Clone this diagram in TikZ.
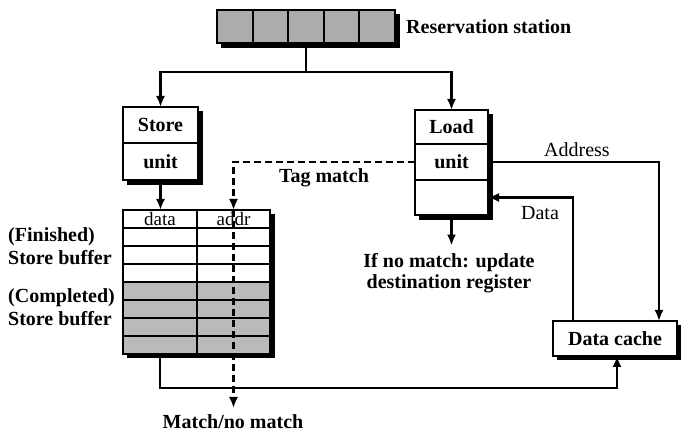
\documentclass[tikz,border=0pt]{standalone}
\usepackage{fontspec}
\setmainfont{Liberation Serif}
\usetikzlibrary{arrows.meta}
\definecolor{rsgray}{RGB}{172,172,172}
\definecolor{bufgray}{RGB}{186,186,186}
\begin{document}
\begin{tikzpicture}[x=1pt,y=-1pt,
  wire/.style={line width=2.1pt},
  arr/.style={wire,-{Latex[length=11pt,width=9pt]}},
  tagline/.style={arr,dash pattern=on 7pt off 4pt},
  cell/.style={draw,line width=2pt,fill=white,inner sep=0pt,outer sep=0pt,
    font=\fontsize{20}{22}\selectfont\bfseries},
  hdr/.style={cell,font=\fontsize{19}{21}\selectfont},
  lbl/.style={inner sep=0pt,font=\fontsize{20}{21}\selectfont\bfseries},
  plain/.style={inner sep=0pt,font=\fontsize{20}{21}\selectfont},
  shadowfill/.style={fill=black}
]
\useasboundingbox (0,0) rectangle (681,435);

% drop shadows behind the boxes
\fill[shadowfill] (221,14) rectangle (400,48);
\fill[shadowfill] (127,111) rectangle (203,185);
\fill[shadowfill] (419,114) rectangle (493,220);
\fill[shadowfill] (127,214) rectangle (275,358);
\fill[shadowfill] (557,325) rectangle (681,360);

% reservation station
\foreach \i in {1,...,5}
  \node[cell,fill=rsgray,minimum width=35.6pt,minimum height=33pt]
    (rs\i) at ({217+35.6*(\i-0.5)},26.5) {};
\node[lbl,anchor=west] (rslabel) at (406,27) {Reservation station};

% store unit
\node[cell,minimum width=75pt,minimum height=36pt] (storeA) at (160.5,125) {Store};
\node[cell,minimum width=75pt,minimum height=37pt] (storeB) at (160.5,161.5) {unit};

% load unit
\node[cell,minimum width=73pt,minimum height=34pt] (loadA) at (451.5,127) {Load};
\node[cell,minimum width=73pt,minimum height=36pt] (loadB) at (451.5,162) {unit};
\node[cell,minimum width=73pt,minimum height=35pt] (loadC) at (451.5,197.5) {};

% store buffer: data / addr columns
\node[hdr,minimum width=74pt,minimum height=18pt] (d1) at (160,219) {data};
\node[hdr,minimum width=73pt,minimum height=18pt] (a1) at (233.5,219) {addr};
\foreach \r in {2,3,4} {
  \node[cell,minimum width=74pt,minimum height=18pt] (d\r) at (160,{201+18*\r}) {};
  \node[cell,minimum width=73pt,minimum height=18pt] (a\r) at (233.5,{201+18*\r}) {};
}
\foreach \r in {5,...,8} {
  \node[cell,fill=bufgray,minimum width=74pt,minimum height=18pt] (d\r) at (160,{201+18*\r}) {};
  \node[cell,fill=bufgray,minimum width=73pt,minimum height=18pt] (a\r) at (233.5,{201+18*\r}) {};
}
\node[lbl,anchor=west] (fin1) at (8,237) {(Finished)};
\node[lbl,anchor=west] (fin2) at (8,258) {Store buffer};
\node[lbl,anchor=west] (com1) at (8,298) {(Completed)};
\node[lbl,anchor=west] (com2) at (8,319) {Store buffer};

% data cache
\node[cell,minimum width=124pt,minimum height=35pt] (cache) at (615,338.5) {Data cache};

% labels
\node[lbl] (taglbl) at (324,178) {Tag match};
\node[plain] (addrlbl) at (577,150) {Address};
\node[plain] (datalbl) at (540,213) {Data};
\node[lbl,align=center] (nomatch) at (449,273.5) {If no match: update\\destination register};
\node[lbl] (matchlbl) at (233,422) {Match/no match};

% routing points
\coordinate (fork) at (306,72);
\coordinate (addrdrop) at (659,162);
\coordinate (datarise) at (573,199);
\coordinate (bypass) at (617,388);
\coordinate (matchtip) at (233.5,408);

% issue from the reservation station
\draw[wire] (rs3.south) -- (fork);
\draw[arr] (fork) -| (storeA.north);
\draw[arr] (fork) -| (loadA.north);

% store unit into the store buffer
\draw[arr] (storeB.south) -- (storeB.south |- d1.north);

% store buffer out to the data cache
\draw[arr] (d8.south) |- (bypass) -- (bypass |- cache.south);

% load unit result
\draw[arr] (loadC.south) -- ([yshift=8pt]loadC.south |- nomatch.north);

% load address / data path
\draw[arr] (loadB.east) -- (addrdrop) -- (addrdrop |- cache.north);
\draw[arr] (datarise |- cache.north) |- (loadC.east);

% tag match through the store buffer
\draw[tagline] (a1.north) -- (matchtip);
\draw[tagline] (loadB.west) -| (a1.north);
\end{tikzpicture}
\end{document}
